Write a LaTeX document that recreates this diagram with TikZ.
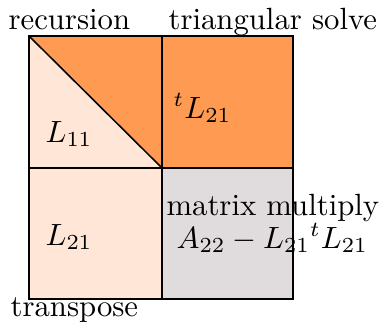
\documentclass[tikz,border=0pt]{standalone}
\definecolor{orangeC}{HTML}{FF9A52}
\definecolor{peachC}{HTML}{FFE6D6}
\definecolor{greyC}{HTML}{E0DBDC}
\begin{document}
\begin{tikzpicture}[x=0.3257pt,y=-0.3257pt,
  lbl/.style={anchor=base west,inner sep=0pt},
  outer/.style={line width=0.9pt},
  inner/.style={line width=0.6pt}]
\useasboundingbox (0,0) rectangle (383,325);
\coordinate (tl) at (29,36);
\coordinate (tm) at (162,36);
\coordinate (tr) at (293,36);
\coordinate (ml) at (29,168);
\coordinate (mm) at (162,168);
\coordinate (mr) at (293,168);
\coordinate (bl) at (29,299);
\coordinate (bm) at (162,299);
\coordinate (br) at (293,299);
% fills
\fill[orangeC] (tl) -- (tm) -- (mm) -- cycle;
\fill[peachC] (tl) -- (mm) -- (ml) -- cycle;
\fill[orangeC] (tm) rectangle (mr);
\fill[peachC] (ml) rectangle (bm);
\fill[greyC] (mm) rectangle (br);
% lines
\draw[inner] (tm) -- (bm);
\draw[inner] (ml) -- (mr);
\draw[line width=0.5pt] (tl) -- (mm);
\draw[outer] (tl) rectangle (br);
% labels
\node[lbl] (rec) at (8,29) {recursion};
\node[lbl] (tri) at (168,29) {triangular solve};
\node[lbl] (l11) at (45,142) {$L_{11}$};
\node[lbl] (tl21) at (173,118) {${}^tL_{21}$};
\node[lbl] (l21) at (45,245) {$L_{21}$};
\node[lbl] (mat) at (166,215) {matrix multiply};
\node[lbl] (upd) at (176,248) {$A_{22}-L_{21}{}^tL_{21}$};
\node[lbl] (tra) at (10,316) {transpose};
\end{tikzpicture}
\end{document}
